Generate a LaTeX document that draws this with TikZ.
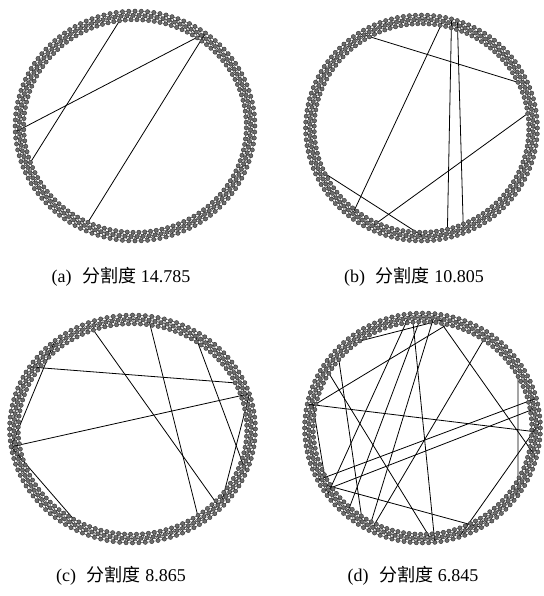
\documentclass[tikz,border=0pt]{standalone}
\usepackage{fontspec}
\setmainfont{Liberation Serif}
\newfontfamily\cjk{Noto Sans CJK SC}
\usepackage{tikz}
\usetikzlibrary{calc}
\definecolor{nodegray}{RGB}{110,110,110}
\definecolor{rimgray}{RGB}{50,50,50}

% one ring lattice: name, centre x, centre y, radius x, radius y, chords
\newcommand{\latticering}[6]{%
  \foreach \i in {0,...,359}{
    \pgfmathsetmacro{\off}{4.4*mod(\i,3)}
    \coordinate (#1-\i) at ({#2+(#4-\off)*cos(\i)},{#3-(#5-\off)*sin(\i)});
  }
  \foreach \i in {0,...,359}{
    \foreach \k in {1,2,3}{
      \pgfmathtruncatemacro{\j}{mod(\i+\k,360)}
      \draw[latt] (#1-\i) -- (#1-\j);
    }
  }
  \foreach \p/\q in {#6} \draw[chord] (#1-\p) -- (#1-\q);
  \foreach \i in {0,...,359} \node[ringnode] at (#1-\i) {};
}
\newcommand{\capt}[2]{(#1)\hspace{0.6em}{\cjk 分割度}\hspace{0.25em}#2}

\begin{document}
\begin{tikzpicture}[x=0.75pt,y=-0.75pt,
  latt/.style={rimgray,line width=0.35pt},
  chord/.style={black,line width=0.6pt},
  ringnode/.style={circle,inner sep=0pt,minimum size=3.1pt,fill=nodegray,draw=rimgray,line width=0.3pt},
  captext/.style={font=\fontsize{13.5}{16}\selectfont}]
  \useasboundingbox (0,0) rectangle (543,596);
  % (a)
  \latticering{a}{135}{126}{120}{115}{98/200,54/183,54/245}
  \node[captext] (capa) at (121,277) {\capt{a}{14.785}};
  % (b)
  \latticering{b}{421.5}{128}{116}{113}{123/26,79/232,75/284,72/292,8/243,206/271}
  \node[captext] (capb) at (414,277) {\capt{b}{10.805}};
  % (c)
  \latticering{c}{132.5}{429}{123}{114}{110/316,82/304,58/340,147/26,129/189,189/18,189/239,18/319}
  \node[captext] (capc) at (121,576) {\capt{c}{8.865}};
  % (d)
  \latticering{d}{422.5}{428}{118}{115}{168/358,169/77,125/79,140/238,166/206,95/276,207/15,213/10,211/300,56/244,29/324,84/242,96/216,90/229,149/274,80/345,3/288}
  \node[captext] (capd) at (413,576) {\capt{d}{6.845}};
\end{tikzpicture}
\end{document}
